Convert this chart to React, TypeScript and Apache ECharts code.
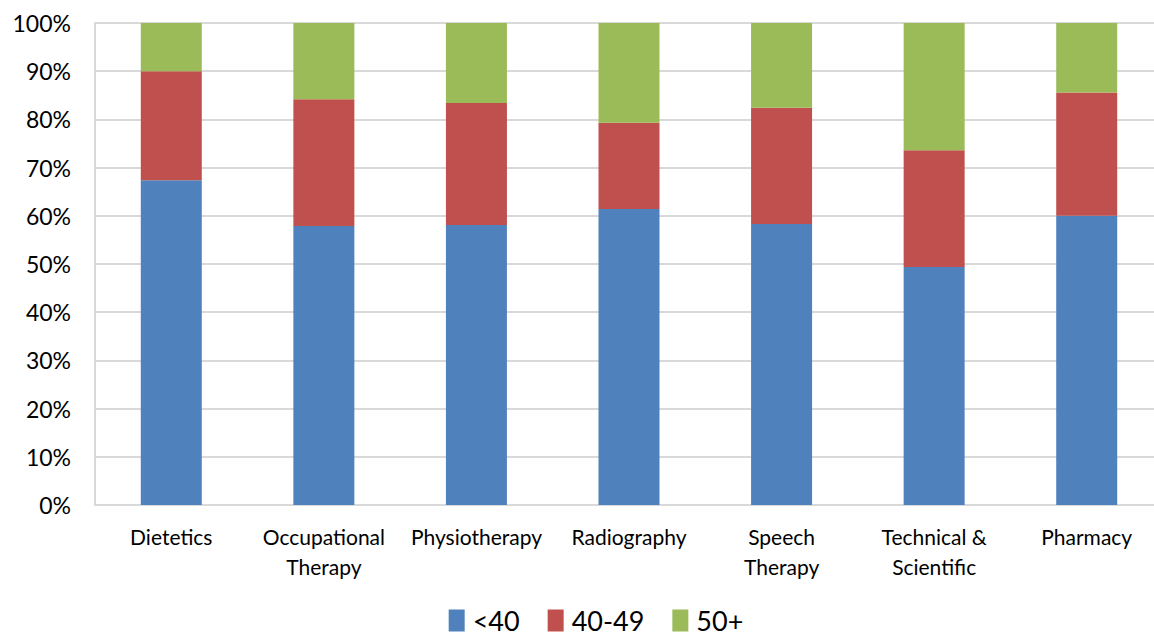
import React, { useEffect, useRef } from "react";
import * as echarts from "echarts";

const categories = [
  "Dietetics",
  "Occupational\nTherapy",
  "Physiotherapy",
  "Radiography",
  "Speech\nTherapy",
  "Technical &\nScientific",
  "Pharmacy",
];
const under40 = [67.4, 57.9, 58.1, 61.4, 58.3, 49.4, 60.0];
const age40to49 = [22.6, 26.3, 25.3, 17.9, 24.1, 24.2, 25.6];
const age50plus = [10.0, 15.8, 16.6, 20.7, 17.6, 26.4, 14.4];
const seriesNames = ["<40", "40-49", "50+"];
const colors = ["#4F81BD", "#C0504D", "#9BBB59"];

const FONT = "Lato, 'Open Sans', sans-serif";

export default function App() {
  const ref = useRef<HTMLDivElement>(null);
  useEffect(() => {
    document.body.style.margin = "0";
    if (!ref.current) return;
    const chart = echarts.init(ref.current, undefined, { renderer: "svg" });
    const data = [under40, age40to49, age50plus];
    chart.setOption({
      animation: false,
      textStyle: { fontFamily: FONT },
      grid: { left: 95, right: 29, top: 23, bottom: 132, containLabel: false },
      legend: {
        bottom: -2,
        left: "center",
        itemWidth: 16,
        itemHeight: 22,
        itemGap: 28,
        icon: "rect",
        textStyle: { fontSize: 27, color: "#000", fontFamily: FONT, padding: [0, 0, 0, 3] },
        data: seriesNames,
      },
      xAxis: {
        type: "category",
        data: categories,
        axisLine: { lineStyle: { color: "#d9d9d9", width: 2 } },
        axisTick: { show: false },
        axisLabel: {
          fontSize: 21,
          color: "#000",
          margin: 16,
          lineHeight: 30,
          interval: 0,
          fontFamily: FONT,
        },
      },
      yAxis: {
        type: "value",
        min: 0,
        max: 100,
        interval: 10,
        axisLine: { show: true, lineStyle: { color: "#d9d9d9", width: 2 } },
        axisTick: { show: false },
        splitLine: { lineStyle: { color: "#d9d9d9", width: 2 } },
        axisLabel: {
          formatter: "{value}%",
          fontSize: 23,
          color: "#000",
          margin: 24,
          fontFamily: FONT,
        },
      },
      series: seriesNames.map((name, i) => ({
        name,
        type: "bar",
        stack: "total",
        barWidth: 61,
        data: data[i],
        itemStyle: { color: colors[i] },
      })),
    });
    return () => chart.dispose();
  }, []);
  return (
    <div style={{ width: 1154, height: 637, overflow: "hidden" }}>
      <div ref={ref} style={{ width: 1192, height: 637 }} />
    </div>
  );
}
